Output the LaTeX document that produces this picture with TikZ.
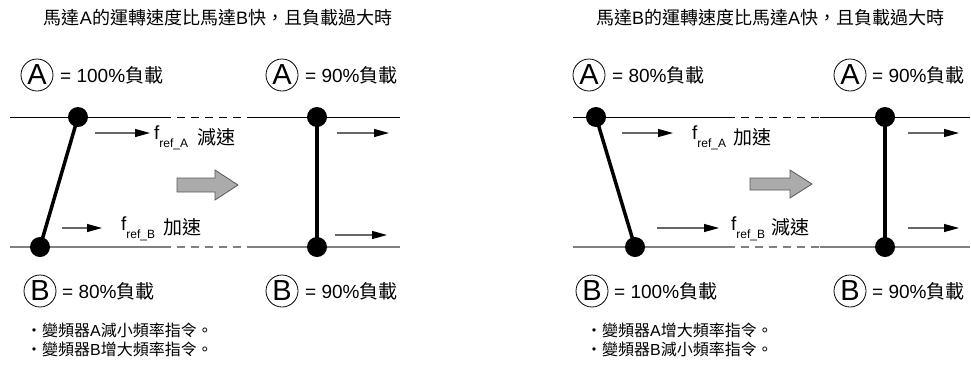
\documentclass[tikz,border=0pt]{standalone}
\usepackage{fontspec}
\setmainfont{Liberation Sans}
\newfontfamily\cjk{Noto Sans CJK TC}
\usetikzlibrary{arrows.meta}
\newcommand\zh[1]{{\cjk #1}}
\newcommand\fref[1]{f\raisebox{-8pt}{\fontsize{12}{12}\selectfont ref\_#1}}
\begin{document}
\begin{tikzpicture}[x=1pt,y=-1pt,
  lbl/.style={font=\fontsize{19}{19}\selectfont, inner sep=0pt, anchor=west},
  ttl/.style={font=\fontsize{18}{18}\selectfont, inner sep=0pt},
  bul/.style={font=\fontsize{16}{16}\selectfont, inner sep=0pt, anchor=west},
  letter/.style={circle, draw, line width=0.8pt, minimum size=32pt, inner sep=0pt, font=\fontsize{29}{29}\selectfont},
  dot/.style={circle, fill=black, minimum size=20pt, inner sep=0pt},
  rod/.style={line width=3.5pt},
  topline/.style={line width=1pt, black},
  botline/.style={line width=1.2pt, gray},
  dashseg/.style={dash pattern=on 8pt off 6pt},
  small/.style={line width=1.2pt, draw=black!60, -{Triangle[length=15pt,width=8pt,color=black]}},
  bigarrow/.style={fill=black!33, draw=black!65, line width=0.8pt}
]
\useasboundingbox (0,0) rectangle (971,365);

% ================= LEFT PANEL =================
\node[ttl] (t1) at (218,18) {\zh{馬達}A\zh{的運轉速度比馬達}B\zh{快，且負載過大時}};

\node[letter] (cA1) at (37,75) {A};
\node[lbl] (lA1) at (60,75) {= 100\%\zh{負載}};
\node[letter] (cA2) at (282,75) {A};
\node[lbl] (lA2) at (305,75) {= 90\%\zh{負載}};

% lines
\coordinate (a1) at (10,117);  \coordinate (a2) at (163,117);
\coordinate (a3) at (247,117); \coordinate (a4) at (400,117);
\coordinate (b1) at (10,247);  \coordinate (b2) at (163,247);
\coordinate (b3) at (250,247); \coordinate (b4) at (400,247);
\draw[topline] (a1) -- (a2);
\draw[topline,dashseg] (a2) -- (a3);
\draw[topline] (a3) -- (a4);
\draw[botline] (b1) -- (b2);
\draw[botline,dashseg] (b2) -- (b3);
\draw[botline] (b3) -- (b4);

\node[dot] (d1t) at (78,117) {};
\node[dot] (d1b) at (40,247) {};
\draw[rod] (d1t.center) -- (d1b.center);
\node[dot] (d2t) at (317,117) {};
\node[dot] (d2b) at (317,247) {};
\draw[rod] (d2t.center) -- (d2b.center);

% small arrows
\coordinate (s1a) at (95,133);  \coordinate (s1b) at (150,133);
\coordinate (s2a) at (62,228);  \coordinate (s2b) at (102,228);
\coordinate (s3a) at (337,133); \coordinate (s3b) at (389,133);
\coordinate (s4a) at (335,235); \coordinate (s4b) at (387,235);
\draw[small] (s1a) -- (s1b);
\draw[small] (s2a) -- (s2b);
\draw[small] (s3a) -- (s3b);
\draw[small] (s4a) -- (s4b);

\node[lbl, anchor=base west] (f1a) at (154,139) {\fref{A}};
\node[lbl] (g1a) at (197,137) {\zh{減速}};
\node[lbl, anchor=base west] (f1b) at (121,230) {\fref{B}};
\node[lbl] (g1b) at (163,227) {\zh{加速}};

\draw[bigarrow] (177,178) -- (215,178) -- (215,170) -- (238,185) -- (215,200) -- (215,192) -- (177,192) -- cycle;

\node[letter] (cB1) at (40,291) {B};
\node[lbl] (lB1) at (62,291) {= 80\%\zh{負載}};
\node[letter] (cB2) at (282,291) {B};
\node[lbl] (lB2) at (305,291) {= 90\%\zh{負載}};

\node[bul] (u1) at (26,330) {\zh{・變頻器}A\zh{減小頻率指令。}};
\node[bul] (u2) at (26,349) {\zh{・變頻器}B\zh{增大頻率指令。}};

% ================= RIGHT PANEL =================
\node[ttl] (t2) at (770,18) {\zh{馬達}B\zh{的運轉速度比馬達}A\zh{快，且負載過大時}};

\node[letter] (cA3) at (589,75) {A};
\node[lbl] (lA3) at (612,75) {= 80\%\zh{負載}};
\node[letter] (cA4) at (850,75) {A};
\node[lbl] (lA4) at (872,75) {= 90\%\zh{負載}};

\coordinate (c1) at (573,117); \coordinate (c2) at (727,117);
\coordinate (c3) at (820,117); \coordinate (c4) at (970,117);
\coordinate (e1) at (573,247); \coordinate (e2) at (727,247);
\coordinate (e3) at (820,247); \coordinate (e4) at (970,247);
\draw[topline] (c1) -- (c2);
\draw[topline,dashseg] (c2) -- (c3);
\draw[topline] (c3) -- (c4);
\draw[botline] (e1) -- (e2);
\draw[botline,dashseg] (e2) -- (e3);
\draw[botline] (e3) -- (e4);

\node[dot] (d3t) at (596,117) {};
\node[dot] (d3b) at (635,247) {};
\draw[rod] (d3t.center) -- (d3b.center);
\node[dot] (d4t) at (885,117) {};
\node[dot] (d4b) at (885,247) {};
\draw[rod] (d4t.center) -- (d4b.center);

\coordinate (r1a) at (622,133); \coordinate (r1b) at (673,133);
\coordinate (r2a) at (657,228); \coordinate (r2b) at (719,228);
\coordinate (r3a) at (908,133); \coordinate (r3b) at (959,133);
\coordinate (r4a) at (908,228); \coordinate (r4b) at (959,228);
\draw[small] (r1a) -- (r1b);
\draw[small] (r2a) -- (r2b);
\draw[small] (r3a) -- (r3b);
\draw[small] (r4a) -- (r4b);

\node[lbl, anchor=base west] (f2a) at (692,139) {\fref{A}};
\node[lbl] (g2a) at (733,137) {\zh{加速}};
\node[lbl, anchor=base west] (f2b) at (731,230) {\fref{B}};
\node[lbl] (g2b) at (771,227) {\zh{減速}};

\draw[bigarrow] (750,178) -- (790,178) -- (790,170) -- (812,184) -- (790,198) -- (790,190) -- (750,190) -- cycle;

\node[letter] (cB3) at (592,291) {B};
\node[lbl] (lB3) at (614,291) {= 100\%\zh{負載}};
\node[letter] (cB4) at (850,291) {B};
\node[lbl] (lB4) at (872,291) {= 90\%\zh{負載}};

\node[bul] (u3) at (586,330) {\zh{・變頻器}A\zh{增大頻率指令。}};
\node[bul] (u4) at (586,349) {\zh{・變頻器}B\zh{減小頻率指令。}};
\end{tikzpicture}
\end{document}
